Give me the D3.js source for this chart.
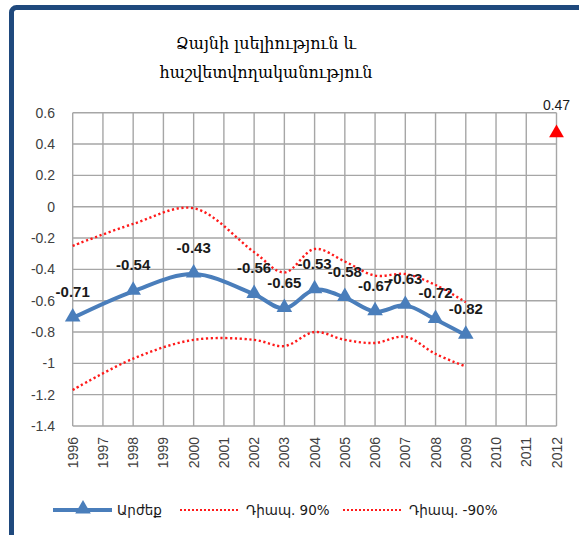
<!DOCTYPE html>
<html>
<head>
<meta charset="utf-8">
<script src="https://cdn.jsdelivr.net/npm/d3@7"></script>
<style>
  body { margin: 0; background: #fff; }
  svg { display: block; }
</style>
</head>
<body>
<div id="chart"></div>
<script>
const years = [1996, 1998, 2000, 2002, 2003, 2004, 2005, 2006, 2007, 2008, 2009];
const values = [-0.71, -0.54, -0.43, -0.56, -0.65, -0.53, -0.58, -0.67, -0.63, -0.72, -0.82];
const upper90 = [-0.25, -0.11, -0.01, -0.29, -0.42, -0.27, -0.35, -0.44, -0.43, -0.50, -0.61];
const lower90 = [-1.17, -0.97, -0.85, -0.85, -0.89, -0.80, -0.85, -0.87, -0.83, -0.94, -1.02];
const targetYear = 2012;
const targetValue = 0.47;

const xTicks = d3.range(1996, 2013);
const yTicks = [0.6, 0.4, 0.2, 0, -0.2, -0.4, -0.6, -0.8, -1, -1.2, -1.4];
const titleLines = ['Ձայնի լսելիություն և', 'հաշվետվողականություն'];
const seriesNames = ['Արժեք', 'Դիապ. 90%', 'Դիապ. -90%'];

const width = 579, height = 535;
const blue = '#4a7ebb';
const red = '#ff1a1a';

const svg = d3.select('#chart')
  .append('svg')
    .attr('width', width)
    .attr('height', height);

// frame (only left and top edges are visible in the crop)
svg.append('rect')
    .attr('x', 11.5)
    .attr('y', 7.5)
    .attr('width', 700)
    .attr('height', 700)
    .attr('rx', 5)
    .attr('fill', '#fff')
    .attr('stroke', '#1f497d')
    .attr('stroke-width', 5);

svg.selectAll('.title')
  .data(titleLines)
  .join('text')
    .attr('class', 'title')
    .attr('x', 266)
    .attr('y', (d, i) => 49 + i * 29)
    .attr('text-anchor', 'middle')
    .style('font-family', '"DejaVu Serif", serif')
    .style('font-size', '16px')
    .attr('fill', '#000')
    .text(d => d);

const x = d3.scaleLinear()
    .domain([1996, 2012])
    .range([72.7, 556.5]);

const y = d3.scaleLinear()
    .domain([-1.4, 0.6])
    .range([426, 112.7]);

// grid
svg.append('g')
  .selectAll('line')
  .data(xTicks)
  .join('line')
    .attr('x1', d => x(d))
    .attr('x2', d => x(d))
    .attr('y1', y(0.6))
    .attr('y2', y(-1.4))
    .attr('stroke', '#a6a6a6')
    .attr('stroke-width', 1.4);

svg.append('g')
  .selectAll('line')
  .data(yTicks)
  .join('line')
    .attr('x1', x(1996))
    .attr('x2', x(2012))
    .attr('y1', d => y(d))
    .attr('y2', d => y(d))
    .attr('stroke', '#a6a6a6')
    .attr('stroke-width', 1.4);

// y tick labels
svg.append('g')
  .selectAll('text')
  .data(yTicks)
  .join('text')
    .attr('x', 55)
    .attr('y', d => y(d))
    .attr('dy', '0.36em')
    .attr('text-anchor', 'end')
    .style('font-family', '"Liberation Sans", Arial, sans-serif')
    .style('font-size', '14px')
    .attr('fill', '#404040')
    .text(d => d);

// x tick labels, rotated
svg.append('g')
  .selectAll('text')
  .data(xTicks)
  .join('text')
    .attr('transform', d => `translate(${x(d)},437) rotate(-90)`)
    .attr('dy', '0.36em')
    .attr('text-anchor', 'end')
    .style('font-family', '"Liberation Sans", Arial, sans-serif')
    .style('font-size', '14px')
    .attr('fill', '#404040')
    .text(d => d);

const smooth = d3.curveCatmullRom.alpha(0.5);

const bandLine = d3.line()
    .x((d, i) => x(years[i]))
    .y(d => y(d))
    .curve(smooth);

[upper90, lower90].forEach(series => {
  svg.append('path')
      .datum(series)
      .attr('d', bandLine)
      .attr('fill', 'none')
      .attr('stroke', red)
      .attr('stroke-width', 2.4)
      .attr('stroke-dasharray', '2.2 2.6');
});

const valuePoints = years.map((yr, i) => ({ year: yr, value: values[i] }));

svg.append('path')
    .datum(valuePoints)
    .attr('d', d3.line().x(d => x(d.year)).y(d => y(d.value)).curve(smooth))
    .attr('fill', 'none')
    .attr('stroke', blue)
    .attr('stroke-width', 4);

const tri = d3.symbol().type(d3.symbolTriangle).size(105);

svg.append('g')
  .selectAll('path')
  .data(valuePoints)
  .join('path')
    .attr('transform', d => `translate(${x(d.year)},${y(d.value) - 1})`)
    .attr('d', tri)
    .attr('fill', blue);

svg.append('g')
  .selectAll('text')
  .data(valuePoints)
  .join('text')
    .attr('x', d => x(d.year))
    .attr('y', d => y(d.value) - 21)
    .attr('text-anchor', 'middle')
    .style('font-family', '"Liberation Sans", Arial, sans-serif')
    .style('font-size', '15px')
    .style('font-weight', 'bold')
    .attr('fill', '#1a1a1a')
    .text(d => d.value);

// forecast point
svg.append('path')
    .attr('transform', `translate(${x(targetYear)},${y(targetValue)})`)
    .attr('d', d3.symbol().type(d3.symbolTriangle).size(95))
    .attr('fill', '#ff0000');

svg.append('text')
    .attr('x', x(targetYear))
    .attr('y', y(targetValue) - 23)
    .attr('text-anchor', 'middle')
    .style('font-family', '"Liberation Sans", Arial, sans-serif')
    .style('font-size', '14px')
    .attr('fill', '#1a1a1a')
    .text(targetValue);

// legend
const legendX = [53, 180, 343];
const legend = svg.append('g')
  .selectAll('g')
  .data(seriesNames)
  .join('g')
    .attr('transform', (d, i) => `translate(${legendX[i]},510)`);

legend.append('line')
    .attr('x1', 0)
    .attr('x2', (d, i) => i === 0 ? 59 : 58)
    .attr('stroke', (d, i) => i === 0 ? blue : red)
    .attr('stroke-width', (d, i) => i === 0 ? 4 : 2)
    .attr('stroke-dasharray', (d, i) => i === 0 ? null : '2 2');

legend.filter((d, i) => i === 0)
  .append('path')
    .attr('transform', 'translate(30,-1)')
    .attr('d', tri)
    .attr('fill', blue);

legend.append('text')
    .attr('x', (d, i) => i === 0 ? 64 : 66)
    .attr('dy', '0.36em')
    .style('font-family', '"DejaVu Sans", sans-serif')
    .style('font-size', '13.5px')
    .attr('fill', '#1a1a1a')
    .text(d => d);
</script>
</body>
</html>
